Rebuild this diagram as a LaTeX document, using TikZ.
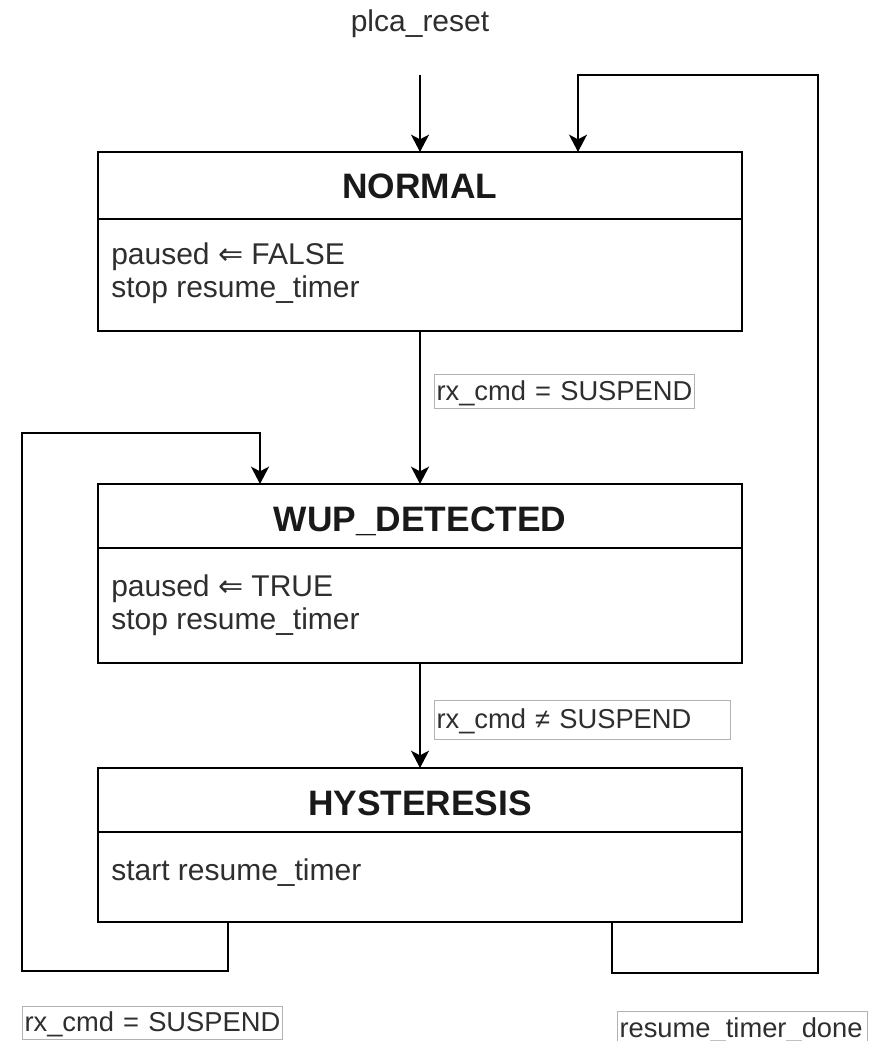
\documentclass[tikz,border=0pt]{standalone}
\usepackage{fontspec}
\setmainfont{Liberation Sans}
\newfontfamily\symfont{DejaVu Sans}
\usetikzlibrary{arrows.meta,calc}

\begin{document}
\begin{tikzpicture}[x=0.75pt,y=-0.75pt,
  box/.style={draw=black, line width=1.5pt, minimum width=483pt, anchor=north west, inner sep=0pt, outer sep=0pt},
  ttl/.style={font=\fontsize{26.5}{30}\selectfont\bfseries, anchor=base, inner sep=0pt, text=black!90},
  body/.style={font=\fontsize{22.5}{25}\selectfont, anchor=base west, inner sep=0pt, text=black!82},
  lbl/.style={draw=black!30, line width=0.75pt, font=\fontsize{20.5}{22}\selectfont, text=black!82,
    anchor=north west, inner xsep=1.5pt, inner ysep=0pt, text height=16pt, text depth=3pt, align=left},
  arr/.style={line width=1.5pt, -{Stealth[length=13pt,width=13.5pt,inset=3.5pt]}},
  wire/.style={line width=1.5pt}
]
\useasboundingbox (0,0) rectangle (889,1041);

% NORMAL state
\node[box, minimum height=134.25pt] (normal) at (98,152) {};
\draw[wire] ($(normal.north west)+(0,67)$) -- ($(normal.north east)+(0,67)$);
\node[ttl] (normalT) at ($(normal.north)+(0,47)$) {NORMAL};
\node[body] (normalA) at ($(normal.north west)+(13,112)$) {paused {\symfont ⇐} FALSE};
\node[body] (normalB) at ($(normal.north west)+(13,145)$) {stop resume\_timer};

% WUP_DETECTED state
\node[box, minimum height=134.25pt] (wup) at (98,484) {};
\draw[wire] ($(wup.north west)+(0,64)$) -- ($(wup.north east)+(0,64)$);
\node[ttl] (wupT) at ($(wup.north)+(0,47)$) {WUP\_DETECTED};
\node[body] (wupA) at ($(wup.north west)+(13,112)$) {paused {\symfont ⇐} TRUE};
\node[body] (wupB) at ($(wup.north west)+(13,145)$) {stop resume\_timer};

% HYSTERESIS state
\node[box, minimum height=115.5pt] (hyst) at (98,768) {};
\draw[wire] ($(hyst.north west)+(0,64)$) -- ($(hyst.north east)+(0,64)$);
\node[ttl] (hystT) at ($(hyst.north)+(0,47)$) {HYSTERESIS};
\node[body] (hystA) at ($(hyst.north west)+(13,112)$) {start resume\_timer};

% reset entry
\node[body, anchor=base] (rstT) at (420,32) {plca\_reset};
\coordinate (rst) at (420,75);
\draw[arr] (rst) -- (normal.north);

% straight transitions
\draw[arr] (normal.south) -- (wup.north);
\draw[arr] (wup.south) -- (hyst.north);

% HYSTERESIS -> WUP_DETECTED loop
\coordinate (hL) at ($(hyst.south west)+(130,0)$);
\coordinate (wIn) at ($(wup.north west)+(162,0)$);
\draw[arr] (hL) -- (228,971) -- (22,971) -- (22,433) -- (260,433) -- (wIn);

% HYSTERESIS -> NORMAL loop
\coordinate (hR) at ($(hyst.south west)+(514,0)$);
\coordinate (nIn) at ($(normal.north west)+(480,0)$);
\draw[arr] (hR) -- (612,973) -- (818,973) -- (818,75) -- (578,75) -- (nIn);

% transition labels
\node[lbl, text width=192pt, minimum height=25.5pt] (l1) at (434,374) {rx\_cmd = SUSPEND};
\node[lbl, text width=219pt, minimum height=29.25pt] (l2) at (434,700) {rx\_cmd ≠ SUSPEND};
\node[lbl, text width=192pt, minimum height=24.75pt] (l3) at (22,1006) {rx\_cmd = SUSPEND};
\node[lbl, text width=184.5pt, minimum height=25.5pt] (l4) at (617,1011) {resume\_timer\_done};
\end{tikzpicture}
\end{document}
